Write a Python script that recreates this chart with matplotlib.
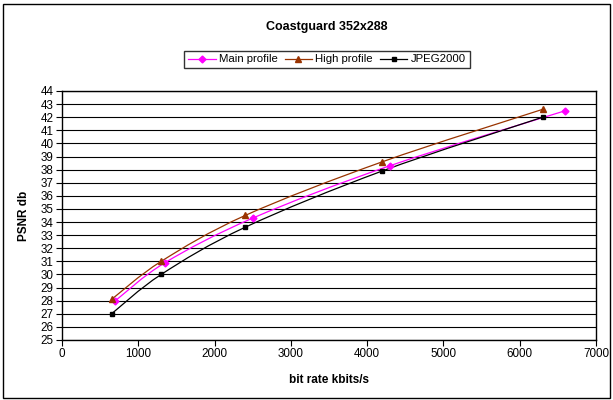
import matplotlib
matplotlib.use('Agg')
import matplotlib.pyplot as plt
from matplotlib.path import Path
from matplotlib.patches import PathPatch, Rectangle
from matplotlib.lines import Line2D

plt.rcParams['font.family'] = ['Liberation Sans', 'DejaVu Sans']

# ---- data ----
main_rate = [700, 1350, 2500, 4300, 6600]
main_psnr = [28.0, 30.9, 34.3, 38.3, 42.5]

high_rate = [650, 1300, 2400, 4200, 6300]
high_psnr = [28.1, 31.0, 34.5, 38.6, 42.6]

jpeg_rate = [650, 1300, 2400, 4200, 6300]
jpeg_psnr = [27.0, 30.0, 33.6, 37.9, 42.0]

x_ticks = [0, 1000, 2000, 3000, 4000, 5000, 6000, 7000]
y_ticks = list(range(25, 45))


def smooth_path(xs, ys):
    # Excel style smoothed line: cubic Bezier through the points (Catmull-Rom)
    pts = list(zip(xs, ys))
    verts = [pts[0]]
    codes = [Path.MOVETO]
    n = len(pts)
    for i in range(n - 1):
        p0 = pts[i - 1] if i > 0 else pts[i]
        p1 = pts[i]
        p2 = pts[i + 1]
        p3 = pts[i + 2] if i + 2 < n else pts[i + 1]
        c1 = (p1[0] + (p2[0] - p0[0]) / 6, p1[1] + (p2[1] - p0[1]) / 6)
        c2 = (p2[0] - (p3[0] - p1[0]) / 6, p2[1] - (p3[1] - p1[1]) / 6)
        verts += [c1, c2, p2]
        codes += [Path.CURVE4] * 3
    return Path(verts, codes)


series = [
    (main_rate, main_psnr, '#FF00FF', 'D', 3.5, 'Main profile'),
    (high_rate, high_psnr, '#993300', '^', 4.5, 'High profile'),
    (jpeg_rate, jpeg_psnr, '#000000', 's', 3.5, 'JPEG2000'),
]

fig = plt.figure(figsize=(6.13, 4.0), dpi=100)
ax = fig.add_axes([62 / 613, 1 - 340 / 400, (596 - 62) / 613, (340 - 91) / 400])

# outer chart border
fig.patches.append(Rectangle((3 / 613, 2 / 400), 607 / 613, 394 / 400, transform=fig.transFigure,
                             fill=False, edgecolor='black', linewidth=1.0))

for y in y_ticks:
    ax.axhline(y, color='black', linewidth=0.8, zorder=1)

handles = []
for xs, ys, col, mk, ms, lab in series:
    ax.add_patch(PathPatch(smooth_path(xs, ys), facecolor='none', edgecolor=col, linewidth=0.9, zorder=2))
    ax.plot(xs, ys, linestyle='none', marker=mk, color=col, markersize=ms, zorder=3)
    handles.append(Line2D([], [], color=col, linewidth=0.9, marker=mk, markersize=ms, label=lab))

ax.set_xlim(0, 7000)
ax.set_ylim(25, 44)
ax.set_xticks(x_ticks)
ax.set_yticks(y_ticks)
ax.tick_params(axis='both', direction='out', length=4, width=0.8, labelsize=8.4, pad=2)
for s in ax.spines.values():
    s.set_linewidth(1.0)
    s.set_color('black')

ax.set_xlabel('bit rate kbits/s', fontsize=8.5, fontweight='bold', labelpad=10)
ax.set_ylabel('PSNR db', fontsize=8.5, fontweight='bold', labelpad=8)

fig.text(327 / 613, 1 - 27 / 400, 'Coastguard 352x288', ha='center', va='center',
         fontsize=9, fontweight='bold')

leg = fig.legend(handles=handles, loc='center', bbox_to_anchor=(327 / 613, 1 - 59.5 / 400),
                 ncol=3, fontsize=8.2, frameon=True, fancybox=False, shadow=False,
                 handlelength=2.4, handletextpad=0.3, columnspacing=0.6,
                 borderpad=0.35, borderaxespad=0)
leg.get_frame().set_edgecolor('black')
leg.get_frame().set_linewidth(1.0)

fig.savefig('out.png', dpi=100)
plt.close(fig)
